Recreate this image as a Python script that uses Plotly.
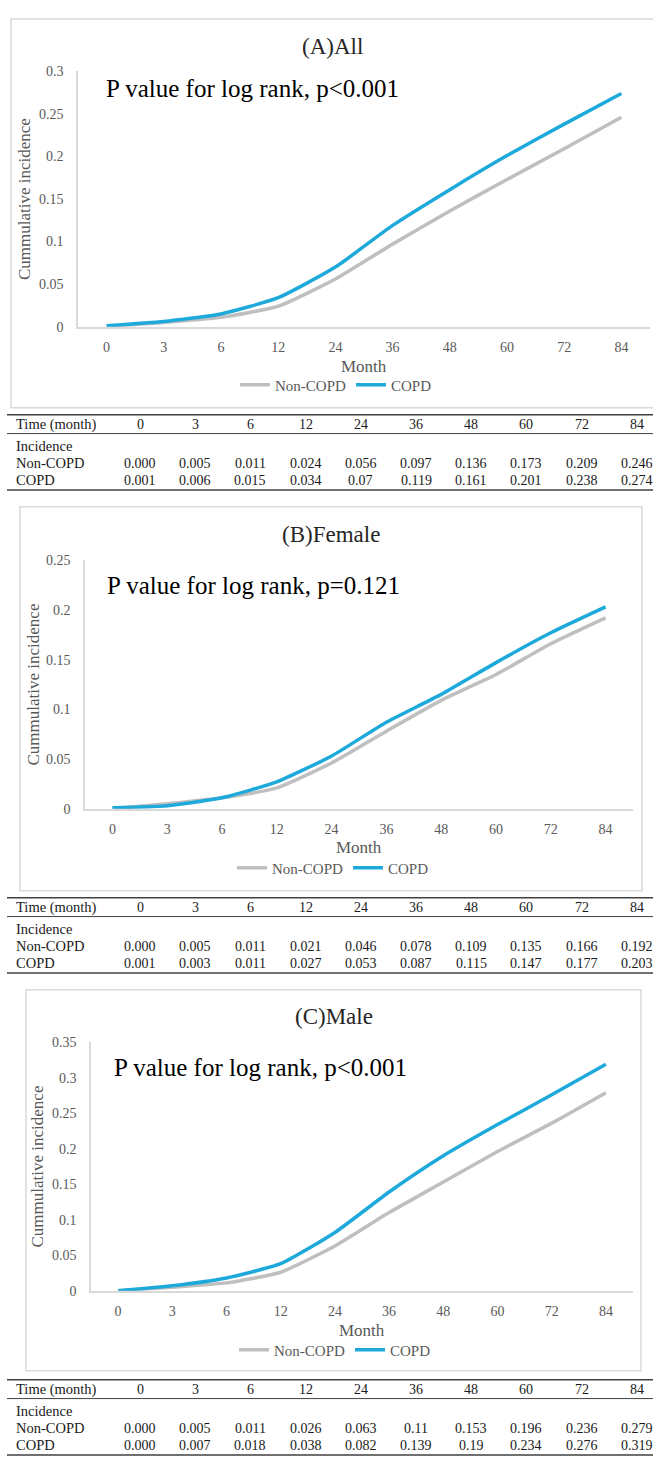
import plotly.graph_objects as go

# ---------------- data ----------------
months = ["0", "3", "6", "12", "24", "36", "48", "60", "72", "84"]
series_names = ["Non-COPD", "COPD"]

panel_titles = ["(A)All", "(B)Female", "(C)Male"]
p_texts = ["P value for log rank, p<0.001",
           "P value for log rank, p=0.121",
           "P value for log rank, p<0.001"]

all_noncopd = ["0.000", "0.005", "0.011", "0.024", "0.056", "0.097", "0.136", "0.173", "0.209", "0.246"]
all_copd = ["0.001", "0.006", "0.015", "0.034", "0.07", "0.119", "0.161", "0.201", "0.238", "0.274"]

female_noncopd = ["0.000", "0.005", "0.011", "0.021", "0.046", "0.078", "0.109", "0.135", "0.166", "0.192"]
female_copd = ["0.001", "0.003", "0.011", "0.027", "0.053", "0.087", "0.115", "0.147", "0.177", "0.203"]

male_noncopd = ["0.000", "0.005", "0.011", "0.026", "0.063", "0.11", "0.153", "0.196", "0.236", "0.279"]
male_copd = ["0.000", "0.007", "0.018", "0.038", "0.082", "0.139", "0.19", "0.234", "0.276", "0.319"]

y_max = [0.3, 0.25, 0.35]
y_tick_vals = [[0, 0.05, 0.1, 0.15, 0.2, 0.25, 0.3],
               [0, 0.05, 0.1, 0.15, 0.2, 0.25],
               [0, 0.05, 0.1, 0.15, 0.2, 0.25, 0.3, 0.35]]
y_tick_text = [["0", "0.05", "0.1", "0.15", "0.2", "0.25", "0.3"],
               ["0", "0.05", "0.1", "0.15", "0.2", "0.25"],
               ["0", "0.05", "0.1", "0.15", "0.2", "0.25", "0.3", "0.35"]]

# ---------------- layout constants (pixels) ----------------
W, H = 653, 1461
SERIF = "Liberation Serif, Times New Roman, serif"
COLORS = {"Non-COPD": "#BFBFBF", "COPD": "#1EA9DB"}


def fx(px):
    return px / W


def fy(py):
    return 1 - py / H


panels = [
    dict(box=(11, 12, 660, 405), plot=(78, 65, 650, 323), title_y=40, p=(104, 82),
         ytitle_x=24, month_y=363, legend_y=382, legend_x=336, table_top=412,
         data=(all_noncopd, all_copd)),
    dict(box=(20, 505, 642, 893), plot=(85, 559, 633, 810), title_y=533, p=(105, 585),
         ytitle_x=33, month_y=849, legend_y=870, legend_x=333, table_top=900,
         data=(female_noncopd, female_copd)),
    dict(box=(26, 993, 641, 1378), plot=(91, 1046, 633, 1297), title_y=1020, p=(112, 1072),
         ytitle_x=37, month_y=1337, legend_y=1357, legend_x=335, table_top=1387,
         data=(male_noncopd, male_copd)),
]

fig = go.Figure()
annotations = []
shapes = []
layout_axes = {}

for i, pan in enumerate(panels):
    n = "" if i == 0 else str(i + 1)
    x0, y0, x1, y1 = pan["plot"]
    legend_name = "legend" + n
    for name, vals in zip(series_names, pan["data"]):
        fig.add_trace(go.Scatter(
            x=months, y=[float(v) for v in vals], name=name, mode="lines",
            line=dict(color=COLORS[name], width=3.5, shape="spline", smoothing=0.5),
            xaxis="x" + n, yaxis="y" + n, legend=legend_name, hoverinfo="skip"))

    layout_axes["xaxis" + n] = dict(
        domain=[fx(x0), fx(x1)], anchor="y" + n, type="category",
        range=[-0.5, len(months) - 0.5],
        showline=True, linecolor="#D9D9D9", linewidth=1.5, showgrid=False, zeroline=False,
        ticks="", tickfont=dict(family=SERIF, size=14, color="#595959"),
        ticklabelstandoff=7, fixedrange=True)
    layout_axes["yaxis" + n] = dict(
        domain=[fy(y1), fy(y0)], anchor="x" + n, range=[0, y_max[i]],
        tickvals=y_tick_vals[i], ticktext=y_tick_text[i],
        showline=True, linecolor="#D9D9D9", linewidth=1.5, showgrid=False, zeroline=False,
        ticks="", tickfont=dict(family=SERIF, size=14, color="#595959"),
        ticklabelstandoff=10, fixedrange=True)
    layout_axes[legend_name] = dict(
        orientation="h", x=fx(pan["legend_x"]), y=fy(pan["legend_y"]),
        xanchor="center", yanchor="middle", font=dict(family=SERIF, size=15, color="#595959"),
        bgcolor="rgba(0,0,0,0)", itemwidth=30, tracegroupgap=0)

    # chart frame
    bx0, by0, bx1, by1 = pan["box"]
    shapes.append(dict(type="rect", xref="paper", yref="paper",
                       x0=fx(bx0), x1=fx(bx1), y0=fy(by1), y1=fy(by0),
                       line=dict(color="#D9D9D9", width=1.5)))

    # texts
    annotations.append(dict(text=panel_titles[i], x=fx((bx0 + min(bx1, W)) / 2), y=fy(pan["title_y"]),
                            xref="paper", yref="paper", showarrow=False, xanchor="center", yanchor="middle",
                            font=dict(family=SERIF, size=23, color="#262626")))
    annotations.append(dict(text=p_texts[i], x=fx(pan["p"][0]), y=fy(pan["p"][1]),
                            xref="paper", yref="paper", showarrow=False, xanchor="left", yanchor="middle",
                            font=dict(family=SERIF, size=25, color="#000000")))
    annotations.append(dict(text="Cummulative incidence", x=fx(pan["ytitle_x"]), y=fy((y0 + y1) / 2),
                            xref="paper", yref="paper", showarrow=False, xanchor="center", yanchor="middle",
                            textangle=-90, font=dict(family=SERIF, size=17, color="#595959")))
    annotations.append(dict(text="Month", x=fx((x0 + x1) / 2), y=fy(pan["month_y"]),
                            xref="paper", yref="paper", showarrow=False, xanchor="center", yanchor="middle",
                            font=dict(family=SERIF, size=17, color="#595959")))

    # table beneath the chart
    t = pan["table_top"]
    lx0, lx1 = 7, 653
    for off, wdt in [(0, 1.6), (19, 1.0), (76, 1.6)]:
        shapes.append(dict(type="line", xref="paper", yref="paper",
                           x0=fx(lx0), x1=fx(lx1), y0=fy(t + off), y1=fy(t + off),
                           line=dict(color="#404040", width=wdt)))
    rows = [("Time (month)", months, 10), ("Incidence", None, 32),
            ("Non-COPD", pan["data"][0], 49), ("COPD", pan["data"][1], 66)]
    for label, vals, off in rows:
        annotations.append(dict(text=label, x=fx(14), y=fy(t + off), xref="paper", yref="paper",
                                showarrow=False, xanchor="left", yanchor="middle",
                                font=dict(family=SERIF, size=14.5, color="#1a1a1a")))
        if vals is not None:
            for j, v in enumerate(vals):
                annotations.append(dict(text=v, x=fx(140 + j * 55.2), y=fy(t + off),
                                        xref="paper", yref="paper", showarrow=False,
                                        xanchor="center", yanchor="middle",
                                        font=dict(family=SERIF, size=14, color="#1a1a1a")))

fig.update_layout(
    width=W, height=H, margin=dict(l=0, r=0, t=0, b=0),
    paper_bgcolor="white", plot_bgcolor="white",
    showlegend=True, annotations=annotations, shapes=shapes, **layout_axes)

fig.write_html("out.html", config={"displayModeBar": False},
               post_script="document.body.style.margin='0px';document.body.style.overflow='hidden';")
